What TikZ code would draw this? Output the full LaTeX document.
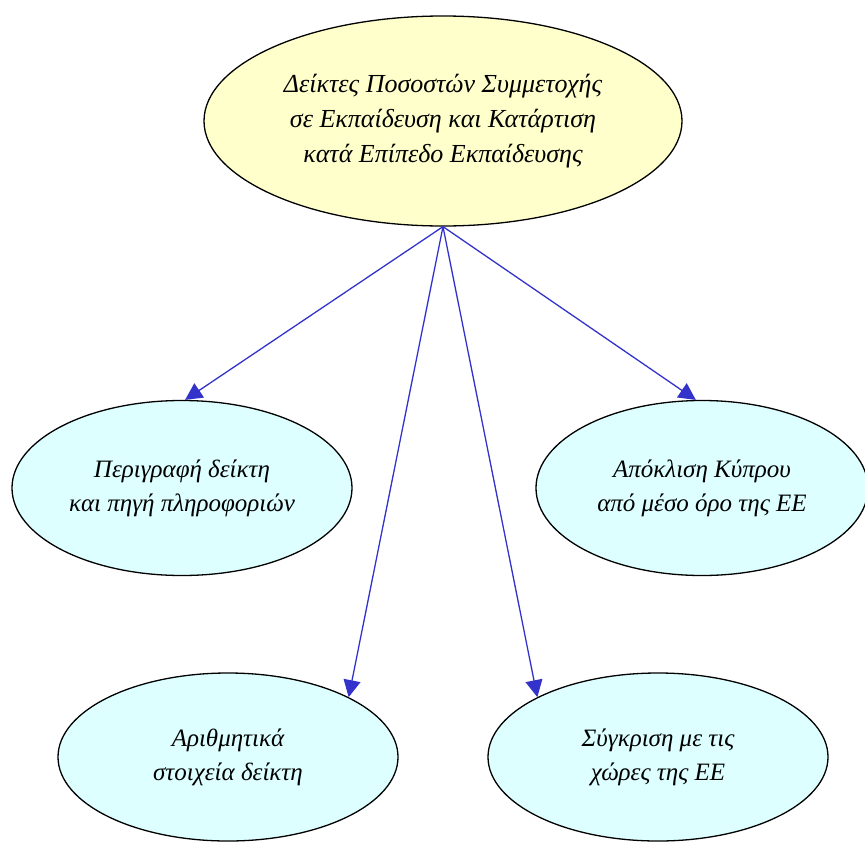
\documentclass[tikz,border=0pt]{standalone}
\usepackage{fontspec}
\setmainfont{Liberation Serif}
\usetikzlibrary{shapes.geometric,arrows.meta}
\definecolor{rootfill}{RGB}{255,255,204}
\definecolor{leaffill}{RGB}{221,255,255}
\definecolor{arrowblue}{RGB}{51,51,204}
\tikzset{
  bubble/.style={ellipse,draw=black,line width=1.3pt,inner sep=0pt,align=center,
    font=\fontsize{26}{35}\selectfont\itshape},
  rootnode/.style={bubble,fill=rootfill,minimum width=478pt,minimum height=210pt},
  leafnode/.style={bubble,fill=leaffill,minimum width=340pt,minimum height=175pt,
    font=\fontsize{25}{34}\selectfont\itshape},
  link/.style={draw=arrowblue,line width=1.3pt,-{Triangle[length=17pt,width=17pt]}},
}
\begin{document}
\begin{tikzpicture}[x=1pt,y=-1pt]
\useasboundingbox (0,0) rectangle (865,841);
\clip (0,0) rectangle (865,841);
\node[rootnode] (root) at (443,121) {Δείκτες Ποσοστών Συμμετοχής\\σε Εκπαίδευση και Κατάρτιση\\κατά Επίπεδο Εκπαίδευσης};
\node[leafnode] (desc) at (182,488) {Περιγραφή δείκτη\\και πηγή πληροφοριών};
\node[leafnode,minimum width=332pt] (dev) at (702,488) {Απόκλιση Κύπρου\\από μέσο όρο της ΕΕ};
\node[leafnode,minimum height=168pt] (num) at (228,757) {Αριθμητικά\\στοιχεία δείκτη};
\node[leafnode,minimum height=168pt] (cmp) at (658,757) {Σύγκριση με τις\\χώρες της ΕΕ};
\coordinate (src) at (root.south);
\draw[link] (src) -- (desc.88);
\draw[link] (src) -- (dev.94);
\draw[link] (src) -- (num.north east);
\draw[link] (src) -- (cmp.north west);
\end{tikzpicture}
\end{document}
